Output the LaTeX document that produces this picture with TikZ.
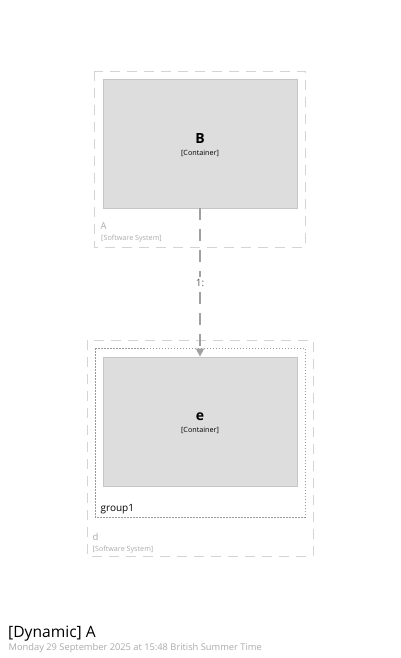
\documentclass[tikz,border=0pt]{standalone}
\usepackage{fontspec}
\setmainfont{Open Sans}
\usetikzlibrary{arrows.meta, positioning}
\definecolor{boxgrey}{HTML}{DDDDDD}
\definecolor{boxline}{HTML}{C6C6C6}
\definecolor{bndgrey}{HTML}{D4D4D4}
\definecolor{linkgrey}{HTML}{A0A0A0}
\definecolor{metagrey}{HTML}{AAAAAA}
\definecolor{groupline}{HTML}{999999}
\definecolor{stepgrey}{HTML}{5A5A5A}

\tikzset{
	container/.style={rectangle, draw=boxline, fill=boxgrey, line width=0.8pt, minimum width=194pt, minimum height=129pt, inner sep=0pt},
	boundary/.style={draw=bndgrey, line width=0.9pt, dash pattern=on 10pt off 7pt},
	grouping/.style={draw=groupline, line width=0.6pt, dash pattern=on 1.5pt off 1.5pt},
	link/.style={draw=linkgrey, line width=1.6pt, dash pattern=on 12pt off 9pt, -{Triangle[length=8pt, width=8pt]}},
}

\begin{document}
\begin{tikzpicture}[x=1pt, y=-1pt]
	\useasboundingbox (0,0) rectangle (400,658);

	% software system boundaries and group
	\draw[boundary] (94,71) rectangle (305,247);
	\draw[boundary] (87,340) rectangle (313,556);
	\draw[grouping] (95,348) rectangle (305,517);

	% containers
	\node[container] (b) at (200,143.5) {};
	\node[container] (e) at (200,421.5) {};

	\node[anchor=base, inner sep=0pt, font=\fontsize{14}{16}\selectfont\bfseries] (bname) at (200,143) {B};
	\node[anchor=base, inner sep=0pt, font=\fontsize{7.2}{8}\selectfont] (btype) at (200,155) {[Container]};
	\node[anchor=base, inner sep=0pt, font=\fontsize{14}{16}\selectfont\bfseries] (ename) at (200,420.5) {e};
	\node[anchor=base, inner sep=0pt, font=\fontsize{7.2}{8}\selectfont] (etype) at (200,432.5) {[Container]};

	% labels of boundaries
	\node[anchor=base west, inner sep=0pt, text=metagrey, font=\fontsize{9.5}{11}\selectfont] (aname) at (100.5,229.5) {A};
	\node[anchor=base west, inner sep=0pt, text=metagrey, font=\fontsize{7.2}{8}\selectfont] (atype) at (101,240.5) {[Software System]};
	\node[anchor=base west, inner sep=0pt, text=metagrey, font=\fontsize{9.5}{11}\selectfont] (dname) at (92.5,540.5) {d};
	\node[anchor=base west, inner sep=0pt, text=metagrey, font=\fontsize{7.2}{8}\selectfont] (dtype) at (92.5,551.5) {[Software System]};
	\node[anchor=base west, inner sep=0pt, font=\fontsize{10}{12}\selectfont] (gname) at (100.5,511.5) {group1};

	% interaction
	\draw[link] (b.south) -- node[fill=white, inner sep=1.5pt, text=stepgrey, font=\fontsize{10}{11}\selectfont] (step1) {1:} (e.north);

	% title
	\node[anchor=base west, inner sep=0pt, font=\fontsize{15.6}{19}\selectfont] (title) at (8,637) {[Dynamic] A};
	\node[anchor=base west, inner sep=0pt, text=metagrey, font=\fontsize{9.3}{11}\selectfont] (stamp) at (8.5,650) {Monday 29 September 2025 at 15:48 British Summer Time};
\end{tikzpicture}
\end{document}
